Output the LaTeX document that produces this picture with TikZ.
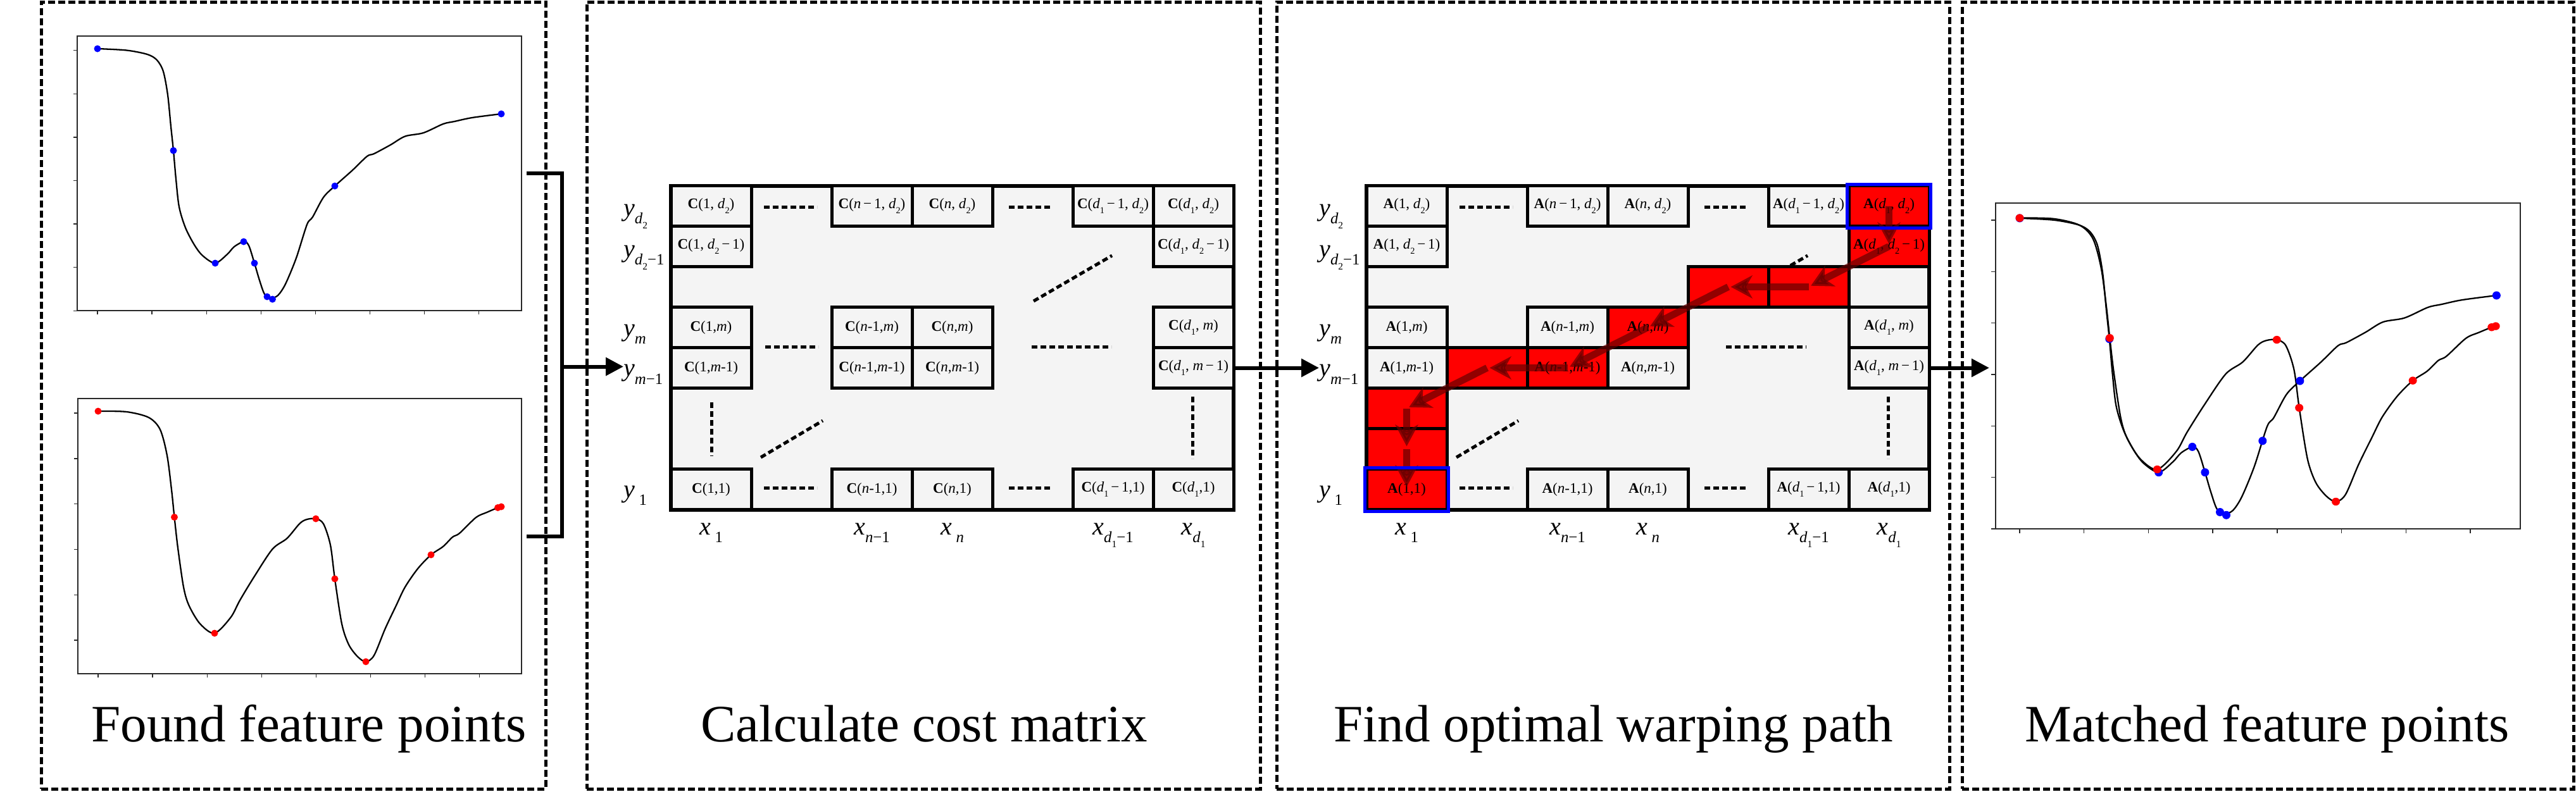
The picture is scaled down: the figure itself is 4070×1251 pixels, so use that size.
\documentclass[tikz,border=0pt]{standalone}
\usepackage{fontspec}
\setmainfont{Liberation Serif}
\usepackage{graphicx}
\usetikzlibrary{arrows.meta}
\definecolor{cellgray}{RGB}{244,244,244}
\definecolor{pathred}{RGB}{255,0,0}
\definecolor{arrowred}{RGB}{100,0,0}
\definecolor{frameg}{RGB}{40,40,40}
\newcommand{\mysub}[1]{\raisebox{-0.32em}{\scalebox{0.62}{#1}}}
\newcommand{\mLtr}{C}
\newcommand{\cellT}[1]{\textbf{\mLtr}(#1)}
\newcommand{\mcell}[5][]{\node[cell,#1] (#2) at ({127*#3+63.5},{325.5+64*#4}) {#5};}
\newcommand{\curveA}{\draw[curve] plot[smooth,tension=0.5] coordinates {(154,77) (200,79.5) (233,86) (248,95) (258,113) (265,150) (270,200) (274,238) (278,283) (283,327) (293,360) (307,387) (320,404) (340,416) (359,402) (370,390) (385,382) (393,388) (402,416) (410,443) (418,465) (428,471) (439,467) (451,449) (468,408) (485,355) (494,343) (511,312) (529,294) (557,269) (580,247) (591,243) (617,229) (640,215.5) (669,210) (700,196) (718,192) (746,186) (792,180)};}
\newcommand{\curveB}{\draw[curve] plot[smooth,tension=0.5] coordinates {(155,650) (200,651) (235,660) (253,679) (264,720) (271,774) (275.5,817.5) (281,866) (290,928) (298.5,957) (316,986) (339,1001) (364.5,976) (379,949) (402,911) (430.5,868) (453.5,851) (473.6,827.5) (485,821) (499,820) (511,828) (522,861.5) (529,915) (540,986) (551,1019) (565,1038) (578,1046) (591,1036) (608.5,994) (626,957) (640,928) (660,899) (681,877) (700,864) (715,849) (726,843) (752,818) (769,810) (786.5,802.5) (792,801)};}
\newcommand{\dotsA}{\foreach \px/\py in {154/77, 274/238, 340/416, 385/382, 402/416, 422/469, 430.5/473, 529/294, 792/180} {\fill[blue] (\px,\py) circle[radius=5.5pt];}}
\newcommand{\dotsB}{\foreach \px/\py in {155/650, 275.5/817.5, 339/1001, 499/820, 529/915, 578/1046, 681/877, 786.5/802.5, 792/801} {\fill[red] (\px,\py) circle[radius=5.5pt];}}
\begin{document}
\begin{tikzpicture}[x=1pt,y=-1pt,
  panel/.style={draw, dash pattern=on 11pt off 5pt, line width=5pt, inner sep=0pt, minimum height=1244pt},
  plotframe/.style={draw=frameg, line width=1.6pt, inner sep=0pt},
  tick/.style={draw=frameg, line width=1.4pt},
  curve/.style={line width=2.3pt, black, line join=round},
  bigarrow/.style={line width=6pt, -{Triangle[length=28pt,width=28pt]}},
  bar/.style={line width=6pt},
  cell/.style={draw, line width=5pt, fill=cellgray, minimum width=127pt, minimum height=64pt, inner sep=0pt, font=\fontsize{23}{25}\selectfont},
  redcell/.style={fill=pathred},
  mat/.style={draw, line width=6pt, fill=cellgray, minimum width=889pt, minimum height=512pt, inner sep=0pt},
  dots/.style={line width=5pt, dash pattern=on 9pt off 5pt},
  ylab/.style={font=\fontsize{40}{44}\selectfont, inner sep=0pt, anchor=base west},
  xlab/.style={font=\fontsize{40}{44}\selectfont, inner sep=0pt, anchor=base},
  title/.style={font=\fontsize{83}{90}\selectfont, inner sep=0pt, anchor=base},
  patharrow/.style={draw=arrowred, opacity=0.7, line width=11pt, -{Stealth[length=34pt,width=36pt,inset=10pt]}, shorten >=4pt}
]
\useasboundingbox (0,0) rectangle (4070,1251);
\fill[white] (0,0) rectangle (4070,1251);

% panels
\node[panel, minimum width=797pt] (P1) at (463.5,625) {};
\node[panel, minimum width=1064pt] (P2) at (1459,625) {};
\node[panel, minimum width=1063pt] (P3) at (2548.5,625) {};
\node[panel, minimum width=966pt] (P4) at (3583,625) {};

% titles
\node[title] (t1) at (488,1172) {Found feature points};
\node[title] (t2) at (1460,1172) {Calculate cost matrix};
\node[title] (t3) at (2549,1172) {Find optimal warping path};
\node[title] (t4) at (3582,1172) {Matched feature points};

% ---------- panel 1 plots ----------
\node[plotframe, minimum width=702pt, minimum height=434pt] (pA) at (473,274) {};
\node[plotframe, minimum width=701pt, minimum height=435pt] (pB) at (473.5,847.5) {};
\foreach \k in {0,...,6} {\draw[tick] (122,{79.6+68.6*\k}) -- ++(-6,0);}
\foreach \k in {0,...,7} {\draw[tick] ({154+86.1*\k},491) -- ++(0,6);}
\foreach \k in {0,...,5} {\draw[tick] (123,{653+71.8*\k}) -- ++(-6,0);}
\foreach \k in {0,...,7} {\draw[tick] ({155+86.1*\k},1065) -- ++(0,6);}
\curveA
\curveB
\dotsA
\dotsB

% ---------- panel 4 plot ----------
\node[plotframe, minimum width=829pt, minimum height=514.5pt] (pD) at (3567.2,578.5) {};
\foreach \k in {0,...,6} {\draw[tick] (3152.6,{348+81.3*\k}) -- ++(-7,0);}
\foreach \k in {0,...,7} {\draw[tick] ({3191+101.7*\k},835.8) -- ++(0,7);}
\begin{scope}[shift={(3009.16,253.66)}, xscale=1.1808, yscale=1.1852]
  \curveA
\end{scope}
\begin{scope}[shift={(3008,-391.4)}, xscale=1.1808, yscale=1.1323]
  \curveB
\end{scope}
\begin{scope}[shift={(3009.16,253.66)}, xscale=1.1808, yscale=1.1852]
  \dotsA
  \fill[blue] (479,374) circle[radius=5.5pt];
\end{scope}
\begin{scope}[shift={(3008,-391.4)}, xscale=1.1808, yscale=1.1323]
  \dotsB
\end{scope}

% ---------- panel 2 : cost matrix ----------
\begin{scope}[xshift=1060pt]
\node[mat] (Cmat) at (444.5,549.5) {};
\draw[dots] (147,327) -- (231,327);
\draw[dots] (534,327) -- (603,327);
\draw[dots] (147,771) -- (231,771);
\draw[dots] (534,771) -- (603,771);
\draw[dots] (149,548) -- (233,548);
\draw[dots] (570,548) -- (696,548);
\draw[dots] (64.5,636) -- (64.5,721);
\draw[dots] (824,627) -- (824,725);
\draw[dots] (573,476) -- (697,404);
\draw[dots] (142,723) -- (240,665);
\mcell{C00}{0}{0}{\cellT{1, \textit{d}\mysub{2}}}
\mcell{C20}{2}{0}{\cellT{\textit{n}\,−\,1, \textit{d}\mysub{2}}}
\mcell{C30}{3}{0}{\cellT{\textit{n}, \textit{d}\mysub{2}}}
\mcell{C50}{5}{0}{\cellT{\textit{d}\mysub{1}\,−\,1, \textit{d}\mysub{2}}}
\mcell{C60}{6}{0}{\cellT{\textit{d}\mysub{1}, \textit{d}\mysub{2}}}
\mcell{C01}{0}{1}{\cellT{1, \textit{d}\mysub{2}\,−\,1}}
\mcell{C61}{6}{1}{\cellT{\textit{d}\mysub{1}, \textit{d}\mysub{2}\,−\,1}}
\mcell{C03}{0}{3}{\cellT{1,\textit{m}}}
\mcell{C23}{2}{3}{\cellT{\textit{n}-1,\textit{m}}}
\mcell{C33}{3}{3}{\cellT{\textit{n},\textit{m}}}
\mcell{C63}{6}{3}{\cellT{\textit{d}\mysub{1}, \textit{m}}}
\mcell{C04}{0}{4}{\cellT{1,\textit{m}-1}}
\mcell{C24}{2}{4}{\cellT{\textit{n}-1,\textit{m}-1}}
\mcell{C34}{3}{4}{\cellT{\textit{n},\textit{m}-1}}
\mcell{C64}{6}{4}{\cellT{\textit{d}\mysub{1}, \textit{m}\,−\,1}}
\mcell{C07}{0}{7}{\cellT{1,1}}
\mcell{C27}{2}{7}{\cellT{\textit{n}-1,1}}
\mcell{C37}{3}{7}{\cellT{\textit{n},1}}
\mcell{C57}{5}{7}{\cellT{\textit{d}\mysub{1}\,−\,1,1}}
\mcell{C67}{6}{7}{\cellT{\textit{d}\mysub{1},1}}
\node[ylab] (Cy0) at (-75,341) {\textit{y}\mysub{\textit{d}\mysub{2}}};
\node[ylab] (Cy1) at (-75,406) {\textit{y}\mysub{\textit{d}\mysub{2}−1}};
\node[ylab] (Cy3) at (-75,531) {\textit{y}\mysub{\textit{m}}};
\node[ylab] (Cy4) at (-75,594.5) {\textit{y}\mysub{\textit{m}−1}};
\node[ylab] (Cy7) at (-75,786) {\textit{y}\,\mysub{1}};
\node[xlab] (Cx0) at (63.5,845) {\textit{x}\,\mysub{1}};
\node[xlab] (Cx2) at (317.5,845) {\textit{x}\mysub{\textit{n}−1}};
\node[xlab] (Cx3) at (444.5,845) {\textit{x}\,\mysub{\textit{n}}};
\node[xlab] (Cx5) at (698.5,845) {\textit{x}\mysub{\textit{d}\mysub{1}−1}};
\node[xlab] (Cx6) at (825.5,845) {\textit{x}\mysub{\textit{d}\mysub{1}}};
\end{scope}

% ---------- panel 3 : accumulated matrix ----------
\renewcommand{\mLtr}{A}
\begin{scope}[xshift=2159pt]
\node[mat] (Amat) at (444.5,549.5) {};
\draw[dots] (147,327) -- (231,327);
\draw[dots] (534,327) -- (603,327);
\draw[dots] (147,771) -- (231,771);
\draw[dots] (534,771) -- (603,771);
\draw[dots] (568,548) -- (695,548);
\draw[dots] (824,627) -- (824,725);
\draw[dots] (573,476) -- (697,404);
\draw[dots] (142,723) -- (240,665);
\mcell{A00}{0}{0}{\cellT{1, \textit{d}\mysub{2}}}
\mcell{A20}{2}{0}{\cellT{\textit{n}\,−\,1, \textit{d}\mysub{2}}}
\mcell{A30}{3}{0}{\cellT{\textit{n}, \textit{d}\mysub{2}}}
\mcell{A50}{5}{0}{\cellT{\textit{d}\mysub{1}\,−\,1, \textit{d}\mysub{2}}}
\mcell[redcell]{A60}{6}{0}{\cellT{\textit{d}\mysub{1}, \textit{d}\mysub{2}}}
\mcell{A01}{0}{1}{\cellT{1, \textit{d}\mysub{2}\,−\,1}}
\mcell[redcell]{A61}{6}{1}{\cellT{\textit{d}\mysub{1}, \textit{d}\mysub{2}\,−\,1}}
\mcell[redcell]{A42}{4}{2}{}
\mcell[redcell]{A52}{5}{2}{}
\mcell{A03}{0}{3}{\cellT{1,\textit{m}}}
\mcell{A23}{2}{3}{\cellT{\textit{n}-1,\textit{m}}}
\mcell[redcell]{A33}{3}{3}{\cellT{\textit{n},\textit{m}}}
\mcell{A63}{6}{3}{\cellT{\textit{d}\mysub{1}, \textit{m}}}
\mcell{A04}{0}{4}{\cellT{1,\textit{m}-1}}
\mcell[redcell]{A14}{1}{4}{}
\mcell[redcell]{A24}{2}{4}{\cellT{\textit{n}-1,\textit{m}-1}}
\mcell{A34}{3}{4}{\cellT{\textit{n},\textit{m}-1}}
\mcell{A64}{6}{4}{\cellT{\textit{d}\mysub{1}, \textit{m}\,−\,1}}
\mcell[redcell]{A05}{0}{5}{}
\mcell[redcell]{A06}{0}{6}{}
\mcell[redcell]{A07}{0}{7}{\cellT{1,1}}
\mcell{A27}{2}{7}{\cellT{\textit{n}-1,1}}
\mcell{A37}{3}{7}{\cellT{\textit{n},1}}
\mcell{A57}{5}{7}{\cellT{\textit{d}\mysub{1}\,−\,1,1}}
\mcell{A67}{6}{7}{\cellT{\textit{d}\mysub{1},1}}
\node[ylab] (Ay0) at (-75,341) {\textit{y}\mysub{\textit{d}\mysub{2}}};
\node[ylab] (Ay1) at (-75,406) {\textit{y}\mysub{\textit{d}\mysub{2}−1}};
\node[ylab] (Ay3) at (-75,531) {\textit{y}\mysub{\textit{m}}};
\node[ylab] (Ay4) at (-75,594.5) {\textit{y}\mysub{\textit{m}−1}};
\node[ylab] (Ay7) at (-75,786) {\textit{y}\,\mysub{1}};
\node[xlab] (Ax0) at (63.5,845) {\textit{x}\,\mysub{1}};
\node[xlab] (Ax2) at (317.5,845) {\textit{x}\mysub{\textit{n}−1}};
\node[xlab] (Ax3) at (444.5,845) {\textit{x}\,\mysub{\textit{n}}};
\node[xlab] (Ax5) at (698.5,845) {\textit{x}\mysub{\textit{d}\mysub{1}−1}};
\node[xlab] (Ax6) at (825.5,845) {\textit{x}\mysub{\textit{d}\mysub{1}}};
\end{scope}

% warping path
\draw[patharrow] (A60.center) -- (A61.center);
\draw[patharrow] (A61.center) -- (A52.center);
\draw[patharrow] (A52.center) -- (A42.center);
\draw[patharrow] (A42.center) -- (A33.center);
\draw[patharrow] (A33.center) -- (A24.center);
\draw[patharrow] (A24.center) -- (A14.center);
\draw[patharrow] (A14.center) -- (A05.center);
\draw[patharrow] (A05.center) -- (A06.center);
\draw[patharrow] (A06.center) -- (A07.center);
\draw[blue, line width=5pt] (A60.north west) rectangle (A60.south east);
\draw[blue, line width=5pt] (A07.north west) rectangle (A07.south east);

% connectors
\coordinate (jA) at (888,274);
\coordinate (jB) at (888,847.5);
\coordinate (jM) at (888,579.5);
\draw[bar] ([xshift=7pt]pA.east) -- (jA) -- (jB) -- ([xshift=7pt]pB.east);
\draw[bigarrow] (jM) -- (Cy4.west |- jM);
\draw[bigarrow] (C64.east) -- (C64.east -| Ay4.west);
\draw[bigarrow, shorten >=9pt] (A64.east) -- (A64.east -| pD.west);
\end{tikzpicture}
\end{document}
